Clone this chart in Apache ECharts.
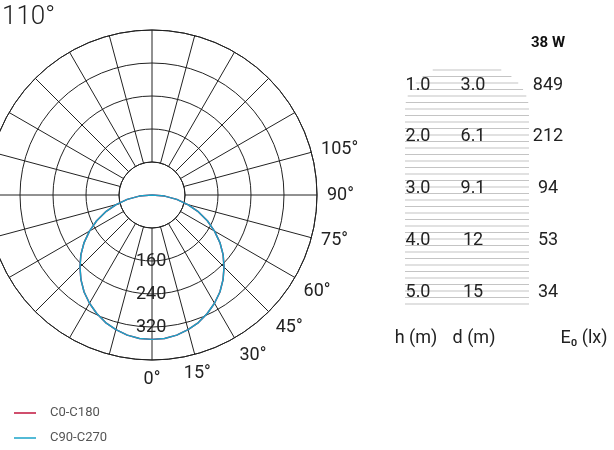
<!DOCTYPE html><html><head><meta charset="utf-8"><script src="https://cdn.jsdelivr.net/npm/echarts@6/dist/echarts.min.js"></script>
<style>html,body{margin:0;background:#fff}#c{width:614px;height:450px}</style></head><body><div id="c"></div><script>
var angles=[0,5,10,15,20,25,30,35,40,45,50,55,60,65,70,75,80,85,90];
var c0c180=[350,349,345,338,329,317,303,287,268,247,225,201,175,148,120,90,61,31,0];
var c90c270=[350,349,345,338,329,317,303,287,268,247,225,201,175,148,120,90,61,31,0];
var angleLabels=['0°','15°','30°','45°','60°','75°','90°','105°'];
var radialLabels=[160,240,320];
var hRows=['1.0','2.0','3.0','4.0','5.0'];
var dRows=['3.0','6.1','9.1','12','15'];
var eRows=['849','212','94','53','34'];
function curve(vals){var d=[];for(var i=angles.length-1;i>=0;i--)d.push([vals[i],360-angles[i]]);for(var j=1;j<angles.length;j++)d.push([vals[j],angles[j]]);return d;}
var F='Roboto, Arial, sans-serif';
var g=[];
g.push({type:'text',left:2,top:4,style:{text:'110°',font:'300 26px '+F,fill:'#222'}});
for(var y=70;y<=306;y+=6.5){var hw=y<110?Math.sqrt(Math.max(0,1-Math.pow((110-y)/48,2)))*62:62;if(hw<3)hw=4;g.push({type:'line',shape:{x1:467-hw,y1:y,x2:467+hw,y2:y},style:{stroke:'#c4c4c4',lineWidth:1.2}});}
g.push({type:'text',x:548,y:43,style:{text:'38 W',font:'bold 15px '+F,fill:'#111',align:'center',verticalAlign:'middle'}});
var rowsY=[85,136,188,240,292];
for(var i=0;i<5;i++){
g.push({type:'text',x:418,y:rowsY[i],style:{text:hRows[i],font:'18px '+F,fill:'#222',align:'center',verticalAlign:'middle'}});
g.push({type:'text',x:473,y:rowsY[i],style:{text:dRows[i],font:'18px '+F,fill:'#222',align:'center',verticalAlign:'middle'}});
g.push({type:'text',x:548,y:rowsY[i],style:{text:eRows[i],font:'18px '+F,fill:'#222',align:'center',verticalAlign:'middle'}});}
g.push({type:'text',x:416,y:338,style:{text:'h (m)',font:'18px '+F,fill:'#222',align:'center',verticalAlign:'middle'}});
g.push({type:'text',x:474,y:338,style:{text:'d (m)',font:'18px '+F,fill:'#222',align:'center',verticalAlign:'middle'}});
g.push({type:'text',x:584,y:338,style:{text:'E₀ (lx)',font:'18px '+F,fill:'#222',align:'center',verticalAlign:'middle'}});
g.push({type:'line',shape:{x1:14,y1:413,x2:36,y2:413},style:{stroke:'#c0143c',lineWidth:1.5}});
g.push({type:'line',shape:{x1:14,y1:438,x2:36,y2:438},style:{stroke:'#1aa3c8',lineWidth:1.5}});
g.push({type:'text',x:50,y:413,style:{text:'C0-C180',font:'13px '+F,fill:'#555',verticalAlign:'middle'}});
g.push({type:'text',x:50,y:438,style:{text:'C90-C270',font:'13px '+F,fill:'#555',verticalAlign:'middle'}});
var ch=echarts.init(document.getElementById('c'));
var aa={type:'value',min:0,max:360,interval:15,startAngle:-90,clockwise:false,axisLine:{show:true,lineStyle:{color:'#222',width:1}},axisTick:{show:false},splitLine:{show:true,lineStyle:{color:'#222',width:1}}};
ch.setOption({animation:false,graphic:g,
polar:[{center:[152,195],radius:[33,165]},{center:[152,195],radius:[0,165]}],
angleAxis:[Object.assign({polarIndex:0,axisLabel:{show:true,margin:10,fontSize:18,color:'#222',fontFamily:F,formatter:function(v){var k=v/15;return (v<=105&&angleLabels[k])?angleLabels[k]:'';}}},aa),
Object.assign({},aa,{polarIndex:1,show:false})],
radiusAxis:[{polarIndex:0,type:'value',min:80,max:400,interval:80,axisLine:{show:false},axisTick:{show:false},splitLine:{show:true,lineStyle:{color:'#222',width:1}},axisLabel:{show:true,fontSize:18,color:'#222',fontFamily:F,margin:-16,formatter:function(v){return radialLabels.indexOf(v)>=0?String(v):'';}}},
{polarIndex:1,type:'value',min:0,max:400,show:false}],
series:[{type:'line',coordinateSystem:'polar',polarIndex:1,data:curve(c0c180),symbol:'none',lineStyle:{color:'#c0143c',width:1.5}},
{type:'line',coordinateSystem:'polar',polarIndex:1,data:curve(c90c270),symbol:'none',lineStyle:{color:'#1aa3c8',width:1.5}}]});
</script></body></html>
